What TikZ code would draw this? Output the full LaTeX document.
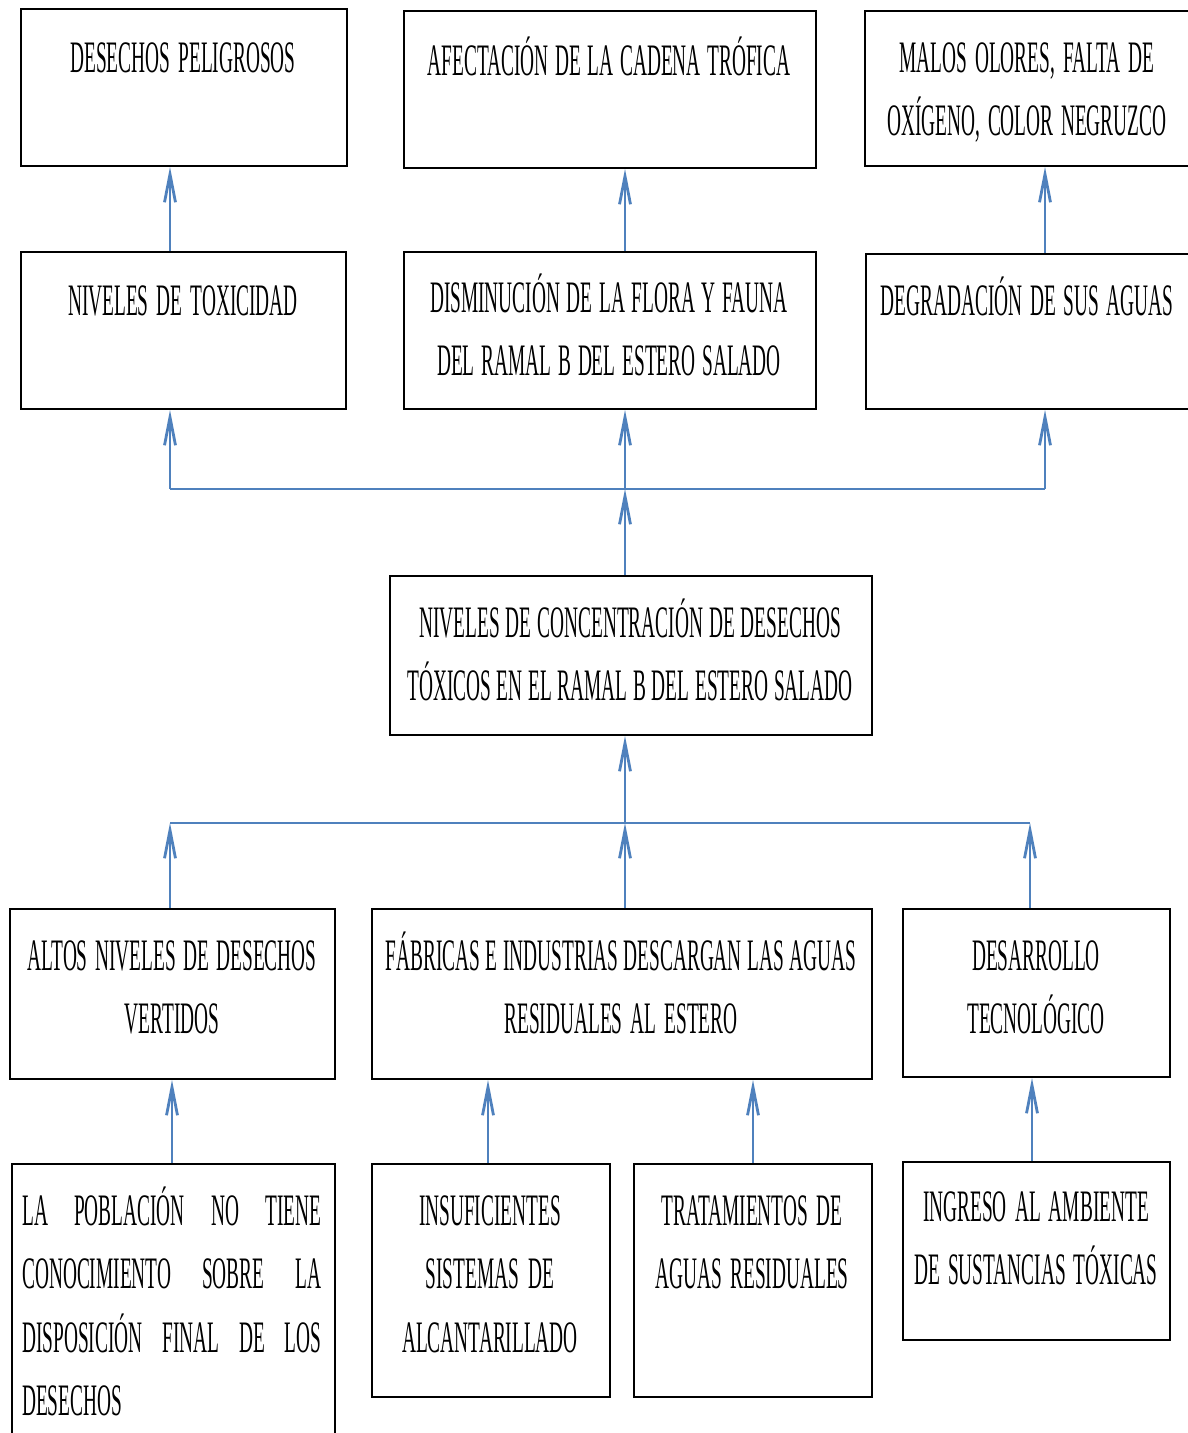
\documentclass[tikz,border=0pt]{standalone}
\usepackage{fontspec}
\setmainfont{Liberation Serif}[FakeStretch=0.43]
\usetikzlibrary{arrows.meta}
\definecolor{linkblue}{HTML}{4F81BD}
\newcommand{\fullline}[1]{\leavevmode\hbox to 299pt{#1}}
\newcommand{\diagfont}{\fontsize{45}{63.5}\selectfont\fontdimen2\font=4pt\fontdimen3\font=2pt\fontdimen4\font=1pt\relax}
\tikzset{
  box/.style={draw=black, line width=2pt, rectangle, anchor=north west, inner sep=0pt},
  txt/.style={anchor=base, inner sep=0pt, align=center, text width=600pt, font=\diagfont,
    execute at begin node={\spaceskip=4pt plus 2pt minus 1pt\relax}},
  link/.style={draw=linkblue, line width=2.8pt},
  arr/.style={link, -{Straight Barb[length=28pt, width=11pt]}}
}
\begin{document}
\begin{tikzpicture}[x=1pt, y=-1pt]
\useasboundingbox (0,0) rectangle (1188,1433);
\fill[white] (0,0) rectangle (1188,1433);
% row A
\node[box, minimum width=326pt, minimum height=157pt] (a1) at (20,8) {};
\node[box, minimum width=412pt, minimum height=157pt] (a2) at (403,10) {};
\node[box, minimum width=340pt, minimum height=155pt] (a3) at (864,10) {};
% row B
\node[box, minimum width=325pt, minimum height=157pt] (b1) at (20,251) {};
\node[box, minimum width=412pt, minimum height=157pt] (b2) at (403,251) {};
\node[box, minimum width=340pt, minimum height=155pt] (b3) at (865,253) {};
% center
\node[box, minimum width=482pt, minimum height=159pt] (c) at (389,575) {};
% row D
\node[box, minimum width=325pt, minimum height=170pt] (d1) at (9,908) {};
\node[box, minimum width=500pt, minimum height=170pt] (d2) at (371,908) {};
\node[box, minimum width=267pt, minimum height=168pt] (d3) at (902,908) {};
% row E
\node[box, minimum width=323pt, minimum height=300pt] (e1) at (11,1163) {};
\node[box, minimum width=238pt, minimum height=233pt] (e2) at (371,1163) {};
\node[box, minimum width=238pt, minimum height=233pt] (e3) at (633,1163) {};
\node[box, minimum width=267pt, minimum height=178pt] (e4) at (902,1161) {};
% texts
\node[txt] (ta1) at (183,72) {DESECHOS PELIGROSOS};
\node[txt] (ta2) at (609,75) {AFECTACIÓN DE LA CADENA TRÓFICA};
\node[txt] (ta3) at (1027,72) {MALOS OLORES, FALTA DE\\OXÍGENO, COLOR NEGRUZCO};
\node[txt] (tb1) at (183,315) {NIVELES DE TOXICIDAD};
\node[txt] (tb2) at (609,312) {DISMINUCIÓN DE LA FLORA Y FAUNA\\DEL RAMAL B DEL ESTERO SALADO};
\node[txt] (tb3) at (1027,315) {DEGRADACIÓN DE SUS AGUAS};
\node[txt] (tc) at (630,637) {NIVELES DE CONCENTRACIÓN DE DESECHOS\\TÓXICOS EN EL RAMAL B DEL ESTERO SALADO};
\node[txt] (td1) at (172,970) {ALTOS NIVELES DE DESECHOS\\VERTIDOS};
\node[txt] (td2) at (621,970) {FÁBRICAS E INDUSTRIAS DESCARGAN LAS AGUAS\\RESIDUALES AL ESTERO};
\node[txt] (td3) at (1036,970) {DESARROLLO\\TECNOLÓGICO};
\node[txt, text width=299pt, align=left, anchor=base west] (te1) at (22,1225) {\fullline{LA\hfill POBLACIÓN\hfill NO\hfill TIENE}\\\fullline{CONOCIMIENTO\hfill SOBRE\hfill LA}\\\fullline{DISPOSICIÓN\hfill FINAL\hfill DE\hfill LOS}\\DESECHOS};
\node[txt] (te2) at (490,1225) {INSUFICIENTES\\SISTEMAS DE\\ALCANTARILLADO};
\node[txt] (te3) at (752,1225) {TRATAMIENTOS DE\\AGUAS RESIDUALES};
\node[txt] (te4) at (1036,1221) {INGRESO AL AMBIENTE\\DE SUSTANCIAS TÓXICAS};
% bus coordinates
\coordinate (busTL) at (170,489);
\coordinate (busT) at (625,489);
\coordinate (busTR) at (1045,489);
\coordinate (busBL) at (170,823);
\coordinate (busB) at (625,823);
\coordinate (busBR) at (1030,823);
\coordinate (k1) at (172,0);
\coordinate (k2) at (488,0);
\coordinate (k3) at (753,0);
\coordinate (k4) at (1032,0);
% upper arrows
\draw[arr] (b1.north -| busTL) -- (a1.south -| busTL);
\draw[arr] (b2.north -| busT) -- (a2.south -| busT);
\draw[arr] (b3.north -| busTR) -- (a3.south -| busTR);
\draw[link] (busTL) -- (busTR);
\draw[arr] (busTL) -- (b1.south -| busTL);
\draw[arr] (busT) -- (b2.south -| busT);
\draw[arr] (busTR) -- (b3.south -| busTR);
\draw[arr] (c.north -| busT) -- (busT);
% lower arrows
\draw[link] (busBL) -- (busBR);
\draw[arr] (busB) -- (c.south -| busB);
\draw[arr] (d1.north -| busBL) -- (busBL);
\draw[arr] (d2.north -| busB) -- (busB);
\draw[arr] (d3.north -| busBR) -- (busBR);
\draw[arr] (e1.north -| k1) -- (d1.south -| k1);
\draw[arr] (e2.north -| k2) -- (d2.south -| k2);
\draw[arr] (e3.north -| k3) -- (d2.south -| k3);
\draw[arr] (e4.north -| k4) -- (d3.south -| k4);
\end{tikzpicture}
\end{document}
